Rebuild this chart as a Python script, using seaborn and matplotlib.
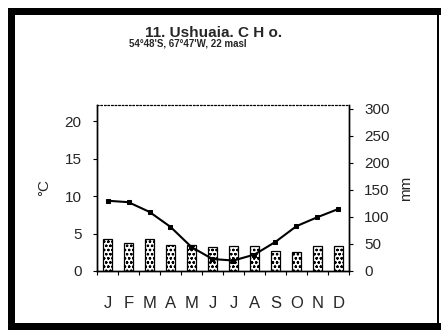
import numpy as np
import pandas as pd
import matplotlib
matplotlib.use("Agg")
import matplotlib.pyplot as plt
from matplotlib.patches import Rectangle
import seaborn as sns

# Monthly climate normals, Ushuaia
months = ["Jan", "Feb", "Mar", "Apr", "May", "Jun",
          "Jul", "Aug", "Sep", "Oct", "Nov", "Dec"]
month_labels = ["J", "F", "M", "A", "M", "J", "J", "A", "S", "O", "N", "D"]
temp_c = [9.4, 9.2, 7.9, 5.9, 3.2, 1.6, 1.4, 2.2, 3.9, 6.0, 7.2, 8.3]
precip_mm = [60, 52, 59, 49, 48, 45, 47, 47, 37, 36, 47, 46]
temp_ticks = [0, 5, 10, 15, 20]
precip_ticks = [0, 50, 100, 150, 200, 250, 300]

title = "11. Ushuaia. C H o."
subtitle = "54\u00b048'S, 67\u00b047'W, 22 masl"

sns.set_theme(style="white")
plt.rcParams["font.family"] = ["Liberation Sans", "DejaVu Sans"]
plt.rcParams["hatch.linewidth"] = 0.6
plt.rcParams["hatch.color"] = "black"

df = pd.DataFrame({"month": months, "precip": precip_mm,
                   "temp": temp_c, "pos": np.arange(len(months))})

W, H = 441, 330
fig = plt.figure(figsize=(W / 100, H / 100), dpi=100)
fig.patch.set_facecolor("white")

# plot region in pixels: x 97..349, y 105..271
ax_p = fig.add_axes([97 / W, 1 - 271 / H, (349 - 97) / W, (271 - 105) / H])
ax_p.set_facecolor("none")

sns.barplot(data=df, x="month", y="precip", ax=ax_p, width=0.45,
            color="white", edgecolor="black", linewidth=0.9,
            hatch="oooo", saturation=1)
ax_p.set_ylim(0, 307)
ax_p.set_xlim(-0.5, len(months) - 0.5)
ax_p.set_xlabel("")

# temperature on a twin axis, shown at the left
ax_t = ax_p.twinx()
sns.lineplot(data=df, x="pos", y="temp", ax=ax_t, color="black",
             linewidth=1.5, marker="s", markersize=3.5,
             markeredgecolor="black")
ax_t.set_ylim(0, 22.2)
ax_t.set_xlabel("")

# precipitation scale on the right, temperature scale on the left
ax_p.yaxis.tick_right()
ax_p.yaxis.set_label_position("right")
ax_p.set_yticks(precip_ticks)
ax_p.set_ylabel("mm", fontsize=11, labelpad=7)
ax_t.yaxis.tick_left()
ax_t.yaxis.set_label_position("left")
ax_t.set_yticks(temp_ticks)
ax_t.set_ylabel("\u00b0C", fontsize=11, labelpad=10)

ax_p.set_xticks(np.arange(len(months)))
ax_p.set_xticklabels(month_labels, fontsize=12)
ax_p.set_xticks(np.arange(len(months) + 1) - 0.5, minor=True)
ax_p.tick_params(axis="x", which="major", length=0, pad=18)
ax_p.tick_params(axis="x", which="minor", length=3, width=0.8,
                 direction="out", bottom=True, color="black")
ax_p.tick_params(axis="y", which="major", length=3, width=0.8,
                 direction="out", right=True, left=False,
                 labelright=True, labelleft=False, pad=8,
                 labelsize=11, color="black")
ax_t.tick_params(axis="y", which="major", length=3, width=0.8,
                 direction="out", left=True, right=False,
                 labelleft=True, labelright=False, pad=8,
                 labelsize=11, color="black")

for ax in (ax_p, ax_t):
    for side in ("left", "right", "bottom"):
        ax.spines[side].set_color("black")
        ax.spines[side].set_linewidth(1.0)
    ax.spines["top"].set_linestyle((0, (1.2, 2.0)))
    ax.spines["top"].set_linewidth(0.8)
    ax.spines["top"].set_color("black")
    ax.grid(False)

fig.text(214 / W, 1 - 33 / H, title, ha="center", va="center",
         fontsize=11, fontweight="bold")
fig.text(188 / W, 1 - 44 / H, subtitle, ha="center", va="center",
         fontsize=7, fontweight="bold")

# heavy frame around the figure
def frame(x0, y0, x1, y1):
    fig.patches.append(Rectangle((x0 / W, 1 - y1 / H), (x1 - x0) / W,
                                 (y1 - y0) / H, transform=fig.transFigure,
                                 facecolor="black", edgecolor="none",
                                 zorder=10))

frame(8, 8, 441, 15)
frame(8, 8, 15, 330)
frame(437, 10, 439, 330)
frame(8, 323, 441, 330)

fig.savefig("out.png", dpi=100, facecolor="white")
